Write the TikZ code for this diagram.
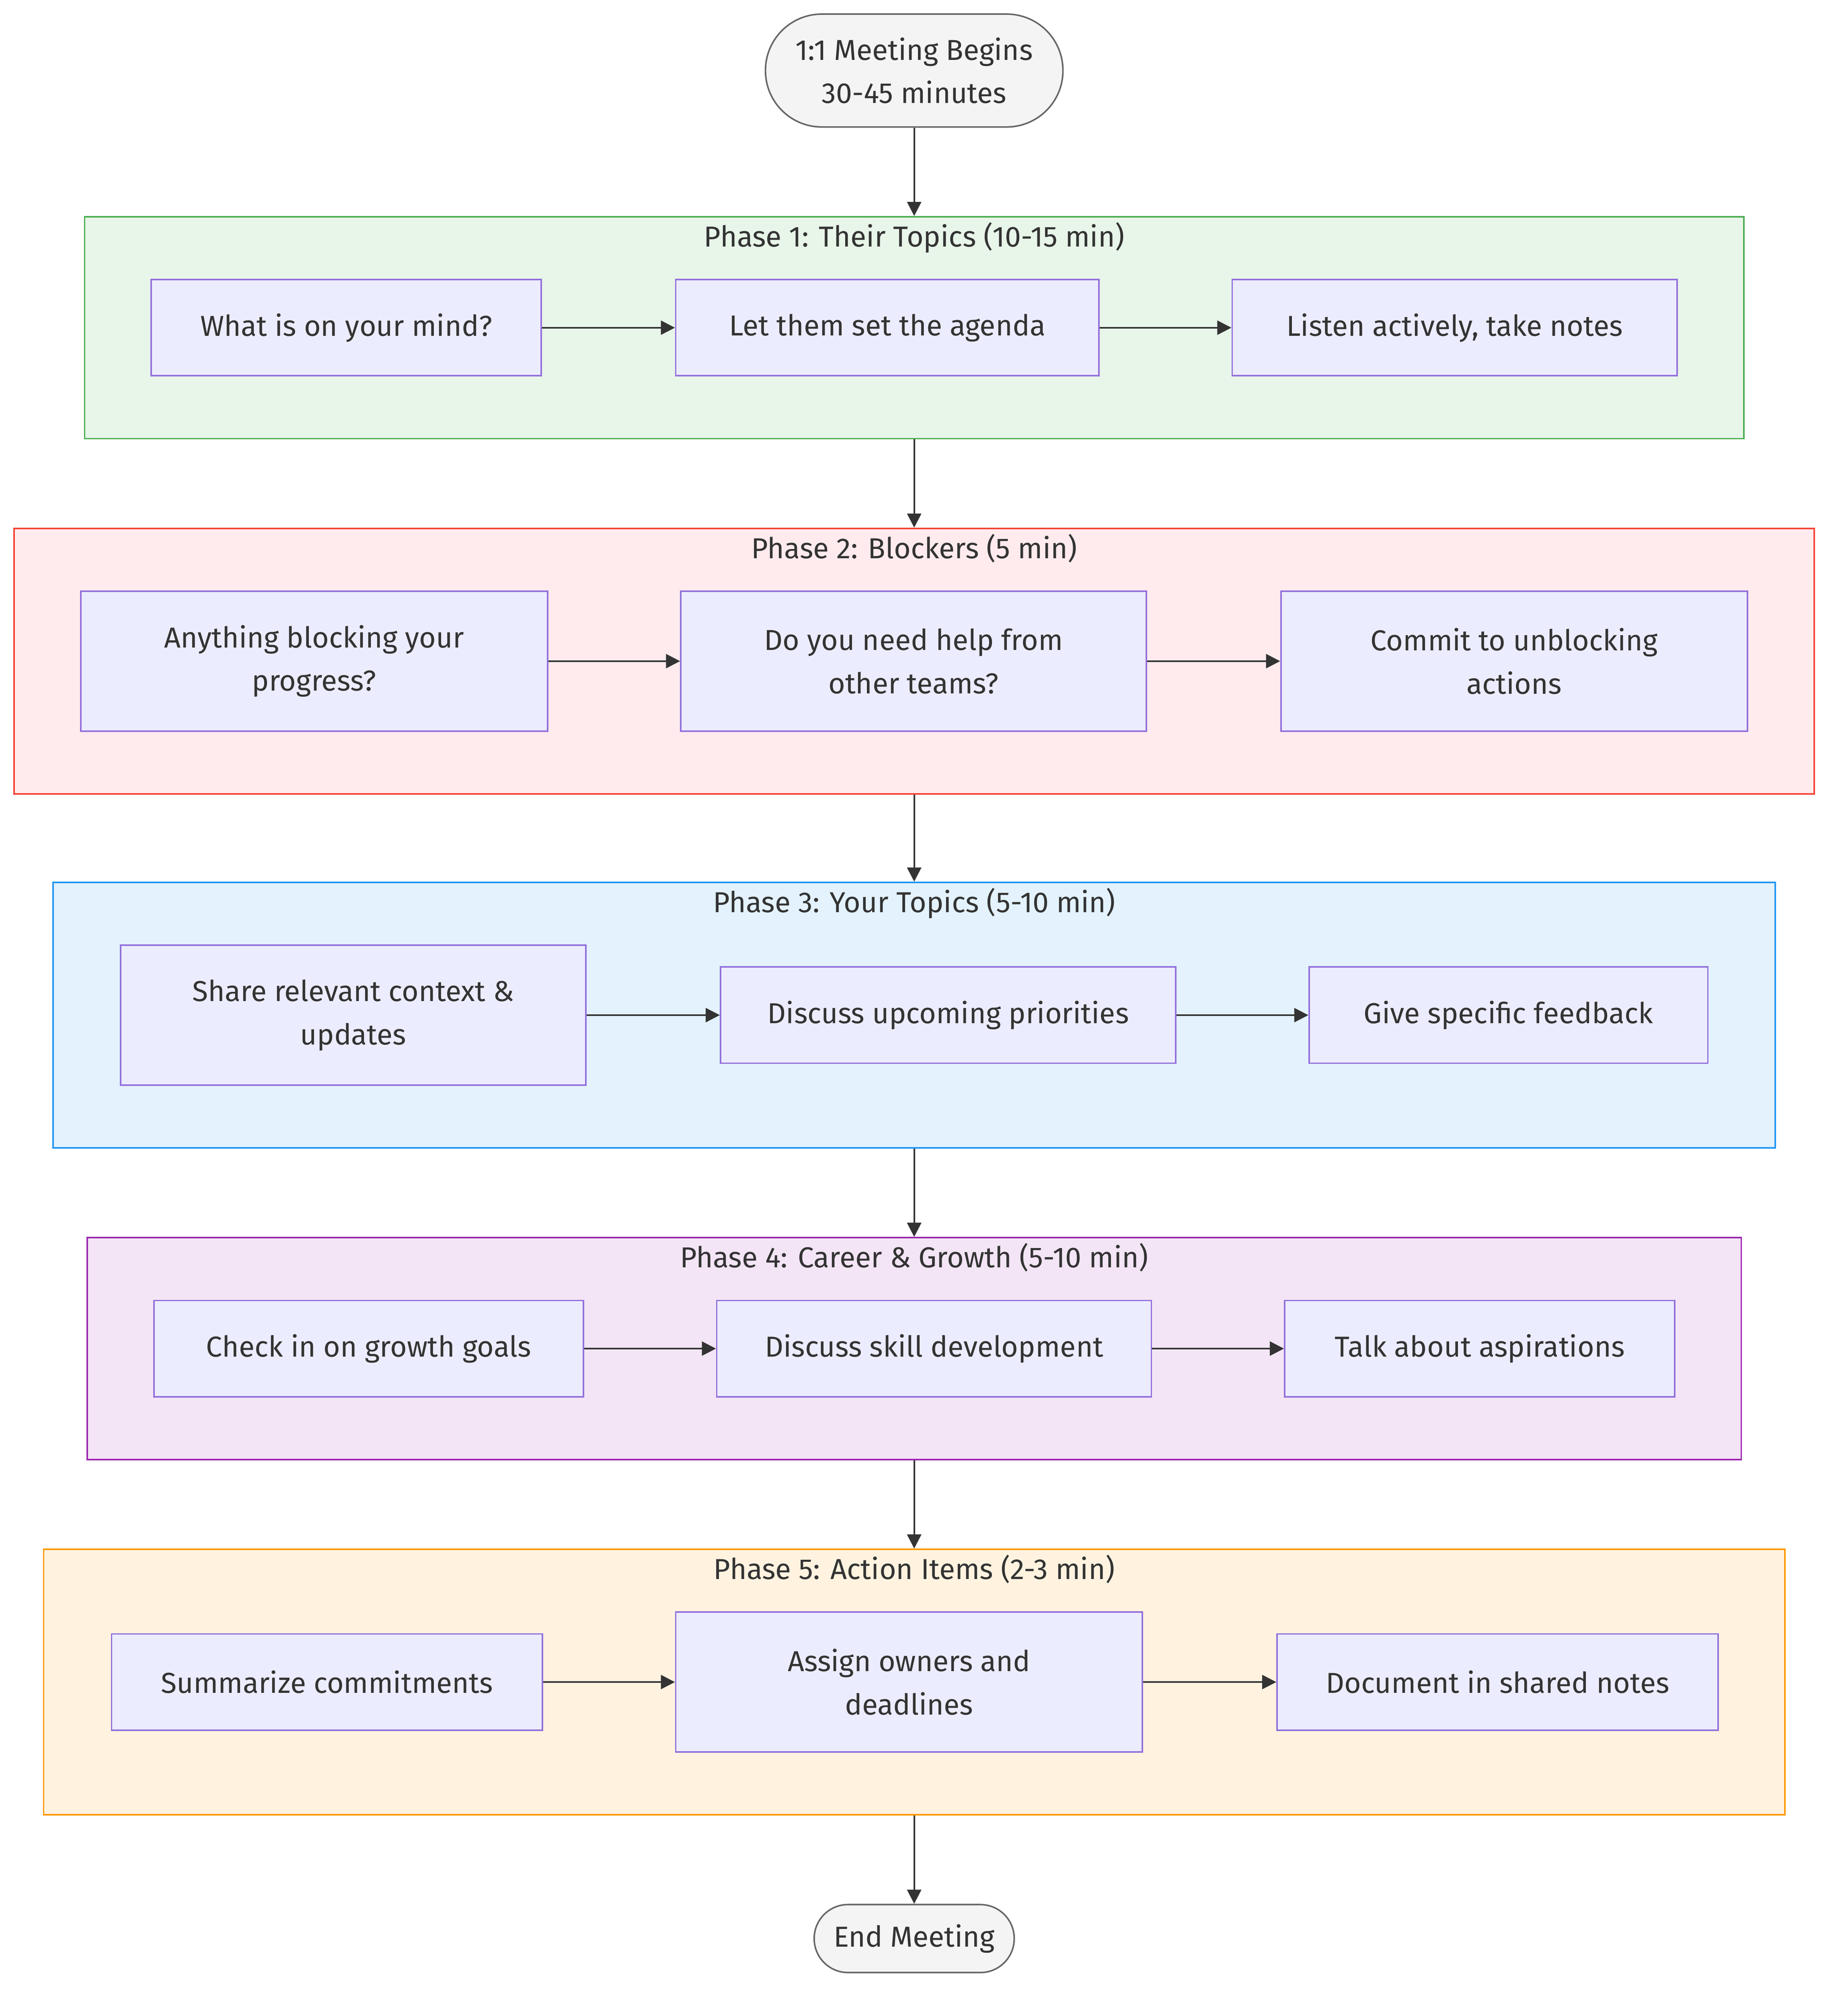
\documentclass[tikz,border=0pt]{standalone}
\usepackage{fontspec}
\setmainfont{Fira Sans}
\usetikzlibrary{arrows.meta}

\definecolor{ink}{HTML}{333333}
\definecolor{taskfill}{HTML}{ECECFF}
\definecolor{taskline}{HTML}{9370DB}
\definecolor{termfill}{HTML}{F4F4F4}
\definecolor{termline}{HTML}{666666}
\definecolor{afill}{HTML}{E8F5E9}\definecolor{aline}{HTML}{4CAF50}
\definecolor{bfill}{HTML}{FFEBEE}\definecolor{bline}{HTML}{F44336}
\definecolor{cfill}{HTML}{E3F2FD}\definecolor{cline}{HTML}{2196F3}
\definecolor{dfill}{HTML}{F3E5F5}\definecolor{dline}{HTML}{9C27B0}
\definecolor{efill}{HTML}{FFF3E0}\definecolor{eline}{HTML}{FF9800}

\tikzset{
  task/.style={draw=taskline,fill=taskfill,line width=1.2pt,text=ink,align=center,inner sep=0pt,minimum height=75pt},
  tall/.style={minimum height=109pt},
  phase/.style={line width=1.2pt,inner sep=0pt},
  label/.style={anchor=base,text=ink,inner sep=0pt,yshift=-24pt},
  term/.style={draw=termline,fill=termfill,line width=1.2pt,text=ink,align=center,inner sep=0pt},
  flow/.style={draw=ink,line width=1.3pt,-{Triangle[length=11pt,width=11pt]}}
}

\begin{document}
\begin{tikzpicture}[x=1pt,y=-1pt,font=\fontsize{22.5}{33.75}\selectfont]
  \useasboundingbox (0,0) rectangle (1441,1568);
  \node[term,minimum width=232pt,minimum height=88pt,rounded corners=43.9pt] at (713,55) (start) {1:1 Meeting Begins\\30-45 minutes};

  \node[phase,draw=aline,fill=afill,minimum width=1294pt,minimum height=173pt] at (713,255.5) (abox) {};
  \node[label] at (abox.north) (alabel) {Phase 1: Their Topics (10-15 min)};
  \node[task,minimum width=304pt] at (270,255.5) (a1) {What is on your mind?};
  \node[task,minimum width=330pt] at (692,255.5) (a2) {Let them set the agenda};
  \node[task,minimum width=347pt] at (1134.5,255.5) (a3) {Listen actively, take notes};

  \node[phase,draw=bline,fill=bfill,minimum width=1404pt,minimum height=207pt] at (713,515.5) (bbox) {};
  \node[label] at (bbox.north) (blabel) {Phase 2: Blockers (5 min)};
  \node[task,tall,minimum width=364pt] at (245,515.5) (b1) {Anything blocking your\\progress?};
  \node[task,tall,minimum width=363pt] at (712.5,515.5) (b2) {Do you need help from\\other teams?};
  \node[task,tall,minimum width=364pt] at (1181,515.5) (b3) {Commit to unblocking\\actions};

  \node[phase,draw=cline,fill=cfill,minimum width=1343pt,minimum height=207pt] at (713,791.5) (cbox) {};
  \node[label] at (cbox.north) (clabel) {Phase 3: Your Topics (5-10 min)};
  \node[task,tall,minimum width=363pt] at (275.5,791.5) (c1) {Share relevant context \&\\updates};
  \node[task,minimum width=355pt] at (739.5,791.5) (c2) {Discuss upcoming priorities};
  \node[task,minimum width=311pt] at (1176.5,791.5) (c3) {Give specific feedback};

  \node[phase,draw=dline,fill=dfill,minimum width=1290pt,minimum height=173pt] at (713,1051.5) (dbox) {};
  \node[label] at (dbox.north) (dlabel) {Phase 4: Career \& Growth (5-10 min)};
  \node[task,minimum width=335pt] at (287.5,1051.5) (d1) {Check in on growth goals};
  \node[task,minimum width=339pt] at (728.5,1051.5) (d2) {Discuss skill development};
  \node[task,minimum width=304pt] at (1154,1051.5) (d3) {Talk about aspirations};

  \node[phase,draw=eline,fill=efill,minimum width=1358pt,minimum height=207pt] at (713,1311.5) (ebox) {};
  \node[label] at (ebox.north) (elabel) {Phase 5: Action Items (2-3 min)};
  \node[task,minimum width=336pt] at (255,1311.5) (e1) {Summarize commitments};
  \node[task,tall,minimum width=364pt] at (709,1311.5) (e2) {Assign owners and\\deadlines};
  \node[task,minimum width=344pt] at (1168,1311.5) (e3) {Document in shared notes};

  \node[term,minimum width=156pt,minimum height=53pt,rounded corners=26.4pt] at (713,1511.5) (finish) {End Meeting};

  \draw[flow] (start) -- (abox);
  \draw[flow] (abox) -- (bbox);
  \draw[flow] (bbox) -- (cbox);
  \draw[flow] (cbox) -- (dbox);
  \draw[flow] (dbox) -- (ebox);
  \draw[flow] (ebox) -- (finish);
  \foreach \r in {a,b,c,d,e} {
    \draw[flow] (\r1) -- (\r2);
    \draw[flow] (\r2) -- (\r3);
  }
\end{tikzpicture}
\end{document}
